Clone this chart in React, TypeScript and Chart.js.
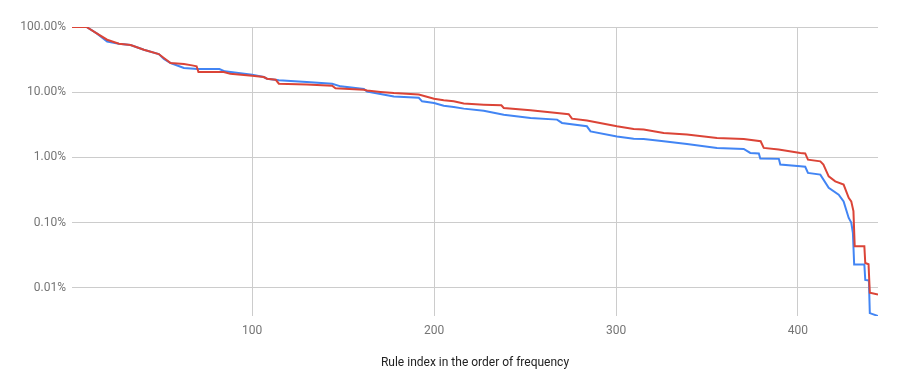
import React, { useEffect, useRef } from "react";
import { Chart, registerables } from "chart.js";

Chart.register(...registerables);

// Rule index (x) and share in percent (y)
const blueIdx = [1, 9, 14.8, 20.3, 26.8, 33.2, 40.5, 48.7, 51.5, 55.2, 62.5, 70, 82, 85, 100, 106.4, 108.2, 114.7, 130, 144, 148.6, 161.4, 163.2, 170.5, 177.9, 191.6, 193.4, 200, 205.3, 210.8, 216.3, 227.3, 238.3, 253, 267.6, 270.3, 284, 286, 300.5, 309.7, 315.2, 326.2, 339, 355.5, 370.2, 373.8, 378.5, 379.3, 389.5, 390.3, 401.3, 404, 405.5, 412.3, 416.9, 422.4, 425.1, 427.9, 429.3, 430.2, 430.9, 436.5, 437, 439, 439.5, 444];
const blueVal = [100, 100, 79, 59.6, 55.5, 53, 44.9, 38.5, 32.4, 28, 23.5, 22.7, 22.7, 20.9, 18.6, 17.1, 16.1, 15.2, 14.4, 13.5, 12.3, 11.2, 10.2, 9.4, 8.6, 8.2, 7.25, 6.84, 6.2, 5.94, 5.6, 5.2, 4.5, 4.03, 3.8, 3.38, 3.0, 2.51, 2.1, 1.94, 1.92, 1.77, 1.61, 1.4, 1.35, 1.17, 1.15, 0.96, 0.95, 0.776, 0.73, 0.72, 0.578, 0.545, 0.341, 0.269, 0.212, 0.118, 0.1, 0.07, 0.0228, 0.0228, 0.0132, 0.013, 0.0041, 0.0037];

const redIdx = [1, 9, 14.8, 20.3, 26.8, 33.2, 40.5, 48.7, 51.5, 55.2, 62.5, 67, 69.5, 70.5, 84.4, 88, 100, 106.4, 108.2, 113, 114.7, 130, 144, 145.8, 161.4, 163.2, 170.5, 177.9, 191.6, 200, 205.3, 210.8, 216.3, 227.3, 237, 238.3, 253, 267.6, 274, 275.8, 284, 300.5, 309.7, 315.2, 326.2, 339, 355.5, 370.2, 379.5, 381.2, 389.4, 401.3, 404, 405.5, 412.3, 414, 416.9, 420.5, 425.1, 427.9, 429.3, 430.5, 431.2, 436.5, 437, 438.8, 439.5, 444];
const redVal = [100, 100, 79, 63.8, 55.5, 53, 44.9, 38.5, 33.5, 28, 27.1, 25.8, 25, 20.4, 20.4, 19.2, 17.9, 17.1, 16.1, 15.5, 13.5, 13.1, 12.6, 11.5, 10.9, 10.6, 10.1, 9.7, 9.2, 7.96, 7.5, 7.25, 6.7, 6.45, 6.3, 5.74, 5.27, 4.81, 4.6, 3.93, 3.67, 3.0, 2.73, 2.67, 2.37, 2.24, 1.99, 1.92, 1.77, 1.4, 1.32, 1.17, 1.15, 0.925, 0.87, 0.776, 0.513, 0.43, 0.383, 0.24, 0.212, 0.15, 0.0435, 0.0435, 0.024, 0.023, 0.0084, 0.0079];

const xTicks = [100, 200, 300, 400];
const yTicks = [100, 10, 1, 0.1, 0.01];
const xTitle = "Rule index in the order of frequency";

export default function App() {
  const ref = useRef<HTMLCanvasElement>(null);
  useEffect(() => {
    if (!ref.current) return;
    const toPts = (xs: number[], ys: number[]) => xs.map((x, i) => ({ x, y: ys[i] }));
    const chart = new Chart(ref.current, {
      type: "line",
      data: {
        datasets: [
          {
            label: "red",
            data: toPts(redIdx, redVal),
            borderColor: "#DB4437",
            backgroundColor: "#DB4437",
            borderWidth: 2,
            pointRadius: 0,
            tension: 0,
          },
          {
            label: "blue",
            data: toPts(blueIdx, blueVal),
            borderColor: "#4285F4",
            backgroundColor: "#4285F4",
            borderWidth: 2,
            pointRadius: 0,
            tension: 0,
          },
        ],
      },
      options: {
        animation: false,
        responsive: false,
        layout: { padding: { top: 27, right: 20, left: 0, bottom: 0 } },
        plugins: { legend: { display: false }, tooltip: { enabled: false } },
        scales: {
          x: {
            type: "linear",
            min: 1,
            max: 444,
            border: { display: false },
            grid: { color: "#cccccc", drawTicks: false },
            afterBuildTicks: (s: any) => {
              s.ticks = xTicks.map((v) => ({ value: v }));
            },
            afterFit: (s: any) => {
              s.height = 74;
            },
            ticks: {
              padding: 8,
              color: "#757575",
              font: { family: "Roboto", size: 12 },
              maxRotation: 0,
            },
            title: {
              display: true,
              text: xTitle,
              color: "#222222",
              font: { family: "Roboto", size: 12 },
              padding: { top: 0, bottom: 20 },
            },
          },
          y: {
            type: "logarithmic",
            min: 0.0037,
            max: 100,
            border: { display: false },
            grid: { color: "#cccccc", drawTicks: false },
            afterBuildTicks: (s: any) => {
              s.ticks = yTicks.map((v) => ({ value: v }));
            },
            afterFit: (s: any) => {
              s.width = 72;
            },
            ticks: {
              padding: 6,
              color: "#757575",
              font: { family: "Roboto", size: 12 },
              callback: (v: any) => Number(v).toFixed(2) + "%",
            },
          },
        },
      },
    });
    return () => chart.destroy();
  }, []);
  return (
    <div style={{ position: "fixed", left: 0, top: 0, width: 898, height: 390, background: "#fff" }}>
      <canvas ref={ref} width={898} height={390} />
    </div>
  );
}
